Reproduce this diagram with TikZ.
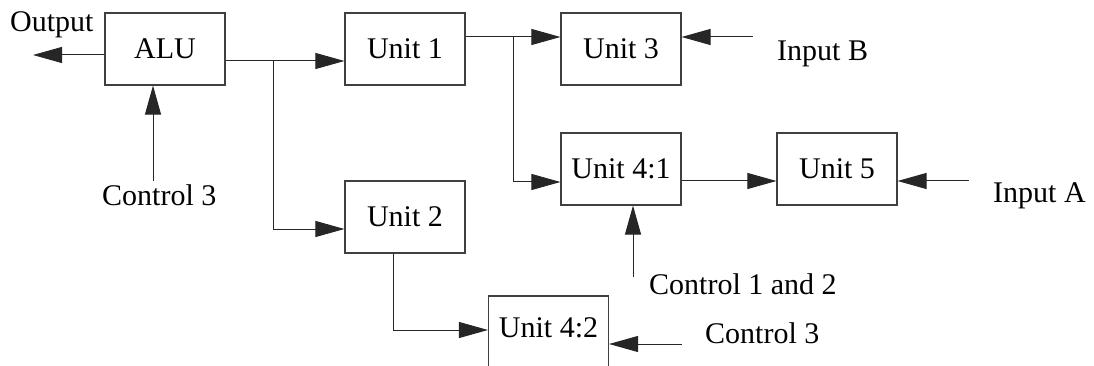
\documentclass[tikz,border=0pt]{standalone}
\usepackage{fontspec}
\setmainfont{Liberation Serif}
\usetikzlibrary{arrows.meta}
\begin{document}
\begin{tikzpicture}[x=1pt,y=-1pt,
  font=\fontsize{30}{36}\selectfont,
  unitbox/.style={draw=black!75,line width=1.1pt,minimum width=120pt,minimum height=72pt,inner sep=0pt},
  wire/.style={draw=black!85,line width=1pt},
  arr/.style={wire,-{Triangle[length=29pt,width=16pt]}},
  lbl/.style={anchor=base west,inner sep=0pt}]
\useasboundingbox (0,0) rectangle (1094,366);
\clip (0,0) rectangle (1094,366);

% processing blocks
\node[unitbox] (alu) at (165,49) {ALU};
\node[unitbox] (u1)  at (405,49) {Unit 1};
\node[unitbox] (u3)  at (621,49) {Unit 3};
\node[unitbox] (u41) at (621,169) {Unit 4:1};
\node[unitbox] (u5)  at (837,169) {Unit 5};
\node[unitbox] (u2)  at (405,217) {Unit 2};
\node[unitbox,text depth=8pt] (u42) at (548.5,332) {Unit 4:2};

% external signals
\node[lbl] (lout) at (10,32)  {Output};
\node[lbl] (lc3a) at (102,205) {Control 3};
\node[lbl] (lib)  at (777,61)  {Input B};
\node[lbl] (lia)  at (993,203) {Input A};
\node[lbl] (lc12) at (649,294) {Control 1 and 2};
\node[lbl] (lc3b) at (705,343) {Control 3};

% free ends of the signal lines
\coordinate (outtip) at (33,55);
\coordinate (c3a)  at (153,181);
\coordinate (inb)  at (753,37);
\coordinate (ina)  at (969,181);
\coordinate (c12)  at (633,277);
\coordinate (c3b)  at (682,344);
\coordinate (j1)   at (273,61);
\coordinate (j2)   at (513,37);

% connections
\draw[arr] ([yshift=-6pt]alu.west) -- (outtip);
\draw[arr] (c3a) -- ([xshift=-12pt]alu.south);
\draw[arr] ([yshift=-12pt]alu.east) -- ([yshift=-12pt]u1.west);
\draw[arr] (j1) |- ([yshift=-12pt]u2.west);
\draw[arr] ([yshift=12pt]u1.east) -- ([yshift=12pt]u3.west);
\draw[arr] (j2) |- ([yshift=-13pt]u41.west);
\draw[arr] (inb) -- ([yshift=12pt]u3.east);
\draw[arr] ([yshift=-12pt]u41.east) -- ([yshift=-12pt]u5.west);
\draw[arr] (ina) -- ([yshift=-12pt]u5.east);
\draw[arr] (c12) -- ([xshift=12pt]u41.south);
\draw[arr] ([xshift=-12pt]u2.south) |- ([yshift=2pt]u42.west);
\draw[arr] (c3b) -- ([yshift=-12pt]u42.east);
\end{tikzpicture}
\end{document}
